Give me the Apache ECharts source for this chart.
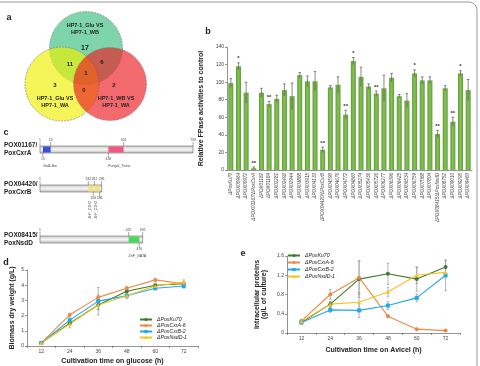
<!DOCTYPE html>
<html>
<head>
<meta charset="utf-8">
<script src="https://cdn.jsdelivr.net/npm/echarts@6/dist/echarts.min.js"></script>
<style>
html, body { margin: 0; padding: 0; background: #fff; }
#main { width: 480px; height: 366px; }
</style>
</head>
<body>
<div id="main"></div>
<script>
// ---- panel a : venn ----
var vennSetNames = ['HP7-1_Glu VS\nHP7-1_WB', 'HP7-1_Glu VS\nHP7-1_WA', 'HP7-1_WB VS\nHP7-1_WA'];
// only GluWB, only GluWA, only WBWA, GluWB&GluWA, GluWB&WBWA, GluWA&WBWA, all three
var vennCounts = [17, 3, 2, 11, 6, 0, 1];

// ---- panel b : FPase activities ----
var mutants = ['ΔPoxKu70', 'ΔPOX00964', 'ΔPOX00972', 'ΔPOX01167/ΔPoxCxrA', 'ΔPOX01182', 'ΔPOX01184',
  'ΔPOX02281', 'ΔPOX02492', 'ΔPOX02944', 'ΔPOX03888', 'ΔPOX03915', 'ΔPOX04133', 'ΔPOX04420/ΔPoxCxrB',
  'ΔPOX04590', 'ΔPOX04676', 'ΔPOX04772', 'ΔPOX04860', 'ΔPOX05274', 'ΔPOX05436', 'ΔPOX05726',
  'ΔPOX06277', 'ΔPOX06396', 'ΔPOX06425', 'ΔPOX06534', 'ΔPOX06759', 'ΔPOX07088', 'ΔPOX07804',
  'ΔPOX08415/ΔPoxNsdD', 'ΔPOX08752', 'ΔPOX09010', 'ΔPOX09295', 'ΔPOX09460'];
var fpaseValues = [99, 118, 88, 2, 88, 75, 81, 91, 84, 108, 101, 101, 23, 94, 97, 63, 124, 106, 95, 87,
  93, 105, 84, 79, 110, 102, 102, 41, 93, 55, 110, 91];
var fpaseErrors = [5, 4, 12, 1.5, 5, 3, 4, 7, 15, 3, 6, 11, 3, 2, 9, 5, 4, 11, 3, 3,
  15, 5, 2, 8, 4, 4, 4, 4, 3, 5, 3, 12];
var fpaseSig = ['', '*', '', '**', '', '**', '', '', '', '', '', '', '**', '', '', '**', '*', '', '', '**',
  '', '', '', '', '*', '', '', '**', '', '**', '*', ''];

// ---- panel c : protein domains ----
var proteinNames = ['POX01167/\nPoxCxrA', 'POX04420/\nPoxCxrB', 'POX08415/\nPoxNsdD'];
var proteinLengths = [733, 296, 492];
var domainStarts = [[15, 328], [232, 262], [425]];
var domainEnds = [[52, 401], [256, 286], [476]];
var domainNames = [['Gal4-like', 'Fungal_Trans'], ['ZnF_C2H2', 'ZnF_C2H2'], ['ZnF_GATA']];
var topMarks = [[1, 52, 401, 733], [1, 232, 262, 296], [1, 425, 492]];
var bottomMarks = [[15, 328], [256, 286], [476]];

// ---- panels d, e : time courses ----
var hours = ['12', '24', '36', '48', '60', '72'];
var strainNames = ['ΔPoxKu70', 'ΔPoxCxrA-6', 'ΔPoxCxrB-2', 'ΔPoxNsdD-1'];
var biomass = [
  [0.2, 1.5, 2.7, 3.6, 4.0, 4.1],
  [0.2, 2.05, 3.2, 3.8, 4.35, 4.1],
  [0.2, 1.7, 2.95, 3.3, 3.8, 3.95],
  [0.2, 1.45, 2.7, 3.3, 3.95, 4.2]
];
var biomassErr = [
  [0.03, 0.15, 0.3, 0.15, 0.1, 0.1],
  [0.03, 0.1, 0.15, 0.1, 0.1, 0.1],
  [0.03, 0.15, 0.9, 0.1, 0.1, 0.15],
  [0.03, 0.25, 0.3, 0.2, 0.1, 0.15]
];
var intraProtein = [
  [0.22, 0.6, 1.12, 1.23, 1.12, 1.37],
  [0.25, 0.8, 1.15, 0.35, 0.08, 0.05],
  [0.22, 0.48, 0.47, 0.57, 0.73, 1.2],
  [0.24, 0.6, 0.64, 0.85, 1.2, 1.26]
];
var intraProteinErr = [
  [0.03, 0.05, 0.38, 0.22, 0.25, 0.13],
  [0.03, 0.1, 0.35, 0.03, 0.02, 0.02],
  [0.03, 0.05, 0.15, 0.08, 0.08, 0.32],
  [0.03, 0.05, 0.2, 0.1, 0.17, 0.1]
];

var FONT = 'Liberation Sans, Arial, sans-serif';
var strainColors = ['#3f7a33', '#ec8a48', '#22a7e8', '#f4c320'];
var strainSymbols = ['circle', 'circle', 'rect', 'triangle'];
var domainColors = [['#3b4fd8', '#ee5a80'], ['#f3e27c', '#f3e27c'], ['#44dd55']];

var myChart = echarts.init(document.getElementById('main'));

// error bar drawing (uses axis coords)
function errorRender(color, capW, withSig) {
  return function (params, api) {
    var x = api.value(0), v = api.value(1), e = api.value(2);
    var hi = api.coord([x, v + e]), lo = api.coord([x, v - e]);
    var st = { stroke: color, lineWidth: 0.7 };
    var kids = [
      { type: 'line', shape: { x1: hi[0], y1: hi[1], x2: lo[0], y2: lo[1] }, style: st },
      { type: 'line', shape: { x1: hi[0] - capW, y1: hi[1], x2: hi[0] + capW, y2: hi[1] }, style: st }
    ];
    if (!withSig) {
      kids.push({ type: 'line', shape: { x1: lo[0] - capW, y1: lo[1], x2: lo[0] + capW, y2: lo[1] }, style: st });
    } else if (fpaseSig[x]) {
      kids.push({ type: 'text', x: hi[0], y: hi[1] - 1,
        style: { text: fpaseSig[x], fill: '#333', font: 'bold 6px ' + FONT, textAlign: 'center', textVerticalAlign: 'bottom' } });
    }
    return { type: 'group', children: kids };
  };
}

// protein bar + domains
function proteinRender(k) {
  return function (params, api) {
    var cs = params.coordSys;
    var y = cs.y, h = cs.height;
    var px = function (pos) { return api.coord([pos, 0])[0]; };
    var kids = [];
    kids.push({ type: 'rect', shape: { x: px(1), y: y, width: px(proteinLengths[k]) - px(1), height: h },
      style: { fill: new echarts.graphic.LinearGradient(0, 0, 0, 1, [
        { offset: 0, color: '#c8c8c8' }, { offset: 0.5, color: '#f4f4f4' }, { offset: 1, color: '#bdbdbd' }]),
        stroke: '#666', lineWidth: 0.6 } });
    domainStarts[k].forEach(function (s, j) {
      var x0 = px(s), x1 = px(domainEnds[k][j]);
      kids.push({ type: 'rect', shape: { x: x0, y: y + 0.5, width: x1 - x0, height: h - 1 },
        style: { fill: domainColors[k][j] } });
      if (k === 1) {
        kids.push({ type: 'text', x: (x0 + x1) / 2 - 1, y: y + h + 9, rotation: Math.PI / 2,
          style: { text: domainNames[k][j], fill: '#444', font: '3.6px ' + FONT, textAlign: 'right', textVerticalAlign: 'middle' } });
      } else {
        kids.push({ type: 'text', x: x0, y: y + h + 13,
          style: { text: domainNames[k][j], fill: '#444', font: '3.6px ' + FONT, textAlign: 'left', textVerticalAlign: 'middle' } });
      }
    });
    topMarks[k].forEach(function (m) {
      var x = px(m);
      kids.push({ type: 'line', shape: { x1: x, y1: y - 4, x2: x, y2: y }, style: { stroke: '#555', lineWidth: 0.5 } });
      kids.push({ type: 'text', x: x, y: y - 4.5,
        style: { text: String(m), fill: '#444', font: '3.4px ' + FONT, textAlign: 'center', textVerticalAlign: 'bottom' } });
    });
    bottomMarks[k].forEach(function (m) {
      var x = px(m);
      kids.push({ type: 'line', shape: { x1: x, y1: y + h, x2: x, y2: y + h + 4 }, style: { stroke: '#555', lineWidth: 0.5 } });
      kids.push({ type: 'text', x: x, y: y + h + 4.5,
        style: { text: String(m), fill: '#444', font: '3.4px ' + FONT, textAlign: 'center', textVerticalAlign: 'top' } });
    });
    return { type: 'group', children: kids };
  };
}

var axisLine = { show: true, lineStyle: { color: '#666', width: 0.7 } };
var axisTick = { show: true, length: 2, lineStyle: { color: '#666', width: 0.7 } };
var tickLabel = { fontSize: 5, color: '#444', fontFamily: FONT, margin: 3 };
var titleStyle = { fontSize: 7, fontWeight: 'bold', color: '#222', fontFamily: FONT };

var grids = [
  { left: 227, top: 47, width: 245, height: 123 },   // b
  { left: 27, top: 270, width: 171, height: 76 },    // d
  { left: 287, top: 256, width: 173, height: 77 },   // e
  { left: 40, top: 146, width: 153, height: 7 },     // c rows
  { left: 40, top: 185, width: 153, height: 7 },
  { left: 40, top: 236, width: 153, height: 7 }
];

var xAxes = [
  { gridIndex: 0, type: 'category', data: mutants, axisLine: axisLine, axisTick: { show: false },
    axisLabel: { fontSize: 4.6, color: '#444', fontFamily: FONT, fontStyle: 'italic', rotate: 90, interval: 0, margin: 3 } },
  { gridIndex: 1, type: 'category', data: hours, axisLine: axisLine, axisTick: axisTick, axisLabel: tickLabel,
    name: 'Cultivation time on glucose (h)', nameLocation: 'middle', nameGap: 12, nameTextStyle: titleStyle },
  { gridIndex: 2, type: 'category', data: hours, axisLine: axisLine, axisTick: axisTick, axisLabel: tickLabel,
    name: 'Cultivation time on Avicel (h)', nameLocation: 'middle', nameGap: 14, nameTextStyle: titleStyle }
];
var yAxes = [
  { gridIndex: 0, type: 'value', min: 0, max: 140, interval: 20, splitLine: { show: false },
    axisLine: axisLine, axisTick: axisTick, axisLabel: tickLabel,
    name: 'Relative FPase activities to control', nameLocation: 'middle', nameGap: 11, nameTextStyle: titleStyle },
  { gridIndex: 1, type: 'value', min: 0, max: 5, interval: 1, splitLine: { show: false },
    axisLine: axisLine, axisTick: axisTick, axisLabel: tickLabel,
    name: 'Biomass dry weight (g/L)', nameLocation: 'middle', nameGap: 11, nameTextStyle: titleStyle },
  { gridIndex: 2, type: 'value', min: 0, max: 1.6, interval: 0.4, splitLine: { show: false },
    axisLine: axisLine, axisTick: axisTick, axisLabel: tickLabel,
    name: 'Intracellular proteins\n(g/L of culture)', nameLocation: 'middle', nameGap: 19,
    nameTextStyle: { fontSize: 7, fontWeight: 'bold', color: '#222', fontFamily: FONT, lineHeight: 7 } }
];
proteinNames.forEach(function (n, k) {
  xAxes.push({ gridIndex: 3 + k, type: 'value', min: 1, max: 733, show: false });
  yAxes.push({ gridIndex: 3 + k, type: 'category', data: [n], axisLine: { show: false }, axisTick: { show: false },
    axisLabel: { align: 'left', margin: 36, fontSize: 6.5, fontWeight: 'bold', color: '#222', fontFamily: FONT, lineHeight: 8 } });
});

var series = [
  { type: 'bar', xAxisIndex: 0, yAxisIndex: 0, data: fpaseValues, barWidth: 5,
    itemStyle: { color: new echarts.graphic.LinearGradient(0, 0, 1, 0, [
      { offset: 0, color: '#5e9e34' }, { offset: 0.5, color: '#86c25a' }, { offset: 1, color: '#5e9e34' }]) } },
  { type: 'custom', xAxisIndex: 0, yAxisIndex: 0, silent: true, z: 5,
    data: fpaseValues.map(function (v, i) { return [i, v, fpaseErrors[i]]; }),
    renderItem: errorRender('#555', 1.3, true) }
];
strainNames.forEach(function (name, s) {
  [[1, biomass, biomassErr], [2, intraProtein, intraProteinErr]].forEach(function (p) {
    series.push({ type: 'line', name: name, xAxisIndex: p[0], yAxisIndex: p[0], data: p[1][s],
      symbol: strainSymbols[s], symbolSize: 4, color: strainColors[s], lineStyle: { width: 1.1 } });
    series.push({ type: 'custom', xAxisIndex: p[0], yAxisIndex: p[0], silent: true, z: 1,
      data: p[1][s].map(function (v, i) { return [i, v, p[2][s][i]]; }),
      renderItem: errorRender('#999', 1.3, false) });
  });
});
proteinNames.forEach(function (n, k) {
  series.push({ type: 'custom', xAxisIndex: 3 + k, yAxisIndex: 3 + k, silent: true,
    data: [[1, proteinLengths[k], 0]], encode: { x: [0, 1], y: 2 }, renderItem: proteinRender(k) });
});

// venn diagram + panel letters + frame
var vennTextStyle = { fill: '#222', fontFamily: FONT, fontWeight: 'bold', textAlign: 'center', textVerticalAlign: 'middle' };
function gtext(x, y, text, size, extra) {
  var st = Object.assign({}, vennTextStyle, { text: text, fontSize: size, lineHeight: size + 1.5 }, extra || {});
  return { type: 'text', x: x, y: y, style: st, z: 20 };
}
var graphics = [
  { type: 'rect', shape: { x: -10, y: 2, width: 487, height: 380, r: 8 }, style: { fill: 'none', stroke: '#999', lineWidth: 1 } },
  { type: 'circle', shape: { cx: 86, cy: 48, r: 36.5 }, style: { fill: 'rgba(40,185,115,0.6)', stroke: '#777', lineWidth: 0.6, lineDash: [2, 1] } },
  { type: 'circle', shape: { cx: 62, cy: 84, r: 37 }, style: { fill: 'rgba(240,240,2,0.65)', stroke: '#777', lineWidth: 0.6, lineDash: [2, 1] } },
  { type: 'circle', shape: { cx: 110, cy: 84, r: 36.5 }, style: { fill: 'rgba(235,26,32,0.65)', stroke: '#777', lineWidth: 0.6, lineDash: [2, 1] } },
  gtext(85, 29, vennSetNames[0], 5.5),
  gtext(55, 102, vennSetNames[1], 5.5),
  gtext(116, 102, vennSetNames[2], 5.5),
  gtext(85, 48, String(vennCounts[0]), 7),
  gtext(55, 85, String(vennCounts[1]), 6),
  gtext(114, 85, String(vennCounts[2]), 6),
  gtext(70, 64, String(vennCounts[3]), 6),
  gtext(102, 62, String(vennCounts[4]), 6),
  gtext(84, 90, String(vennCounts[5]), 6),
  gtext(86, 73, String(vennCounts[6]), 6),
  gtext(9, 18, 'a', 9),
  gtext(208, 32, 'b', 9),
  gtext(6, 133, 'c', 9),
  gtext(6, 263, 'd', 9),
  gtext(243, 254, 'e', 9)
];

var legendText = { fontSize: 5.2, fontStyle: 'italic', color: '#222', fontFamily: FONT };
var option = {
  animation: false,
  textStyle: { fontFamily: FONT },
  grid: grids,
  xAxis: xAxes,
  yAxis: yAxes,
  legend: [
    { data: strainNames, orient: 'vertical', left: 139, top: 317, itemGap: 1, itemWidth: 12, itemHeight: 4,
      padding: 0, textStyle: legendText },
    { data: strainNames, orient: 'vertical', left: 287, top: 253, itemGap: 2, itemWidth: 12, itemHeight: 4,
      padding: 0, textStyle: legendText }
  ],
  graphic: graphics,
  series: series
};
myChart.setOption(option);
window.addEventListener('resize', function () { myChart.resize(); });
</script>
</body>
</html>
